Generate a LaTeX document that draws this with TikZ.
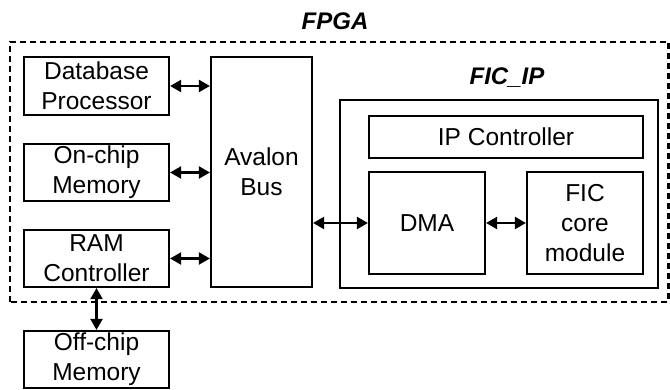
\documentclass[tikz,border=0pt]{standalone}
\usepackage{fontspec}
\setmainfont{Liberation Sans}
\usetikzlibrary{arrows.meta,positioning,calc}

\tikzset{
  blk/.style={draw,line width=2.2pt,align=center,inner sep=0pt,font=\fontsize{24.5}{30}\selectfont},
  link/.style={line width=2.2pt,{Triangle[length=11pt,width=12pt]}-{Triangle[length=11pt,width=12pt]}},
  title/.style={font=\fontsize{24}{28}\selectfont\bfseries\itshape}
}

\begin{document}
\begin{tikzpicture}[x=1pt,y=1pt]
  \useasboundingbox (0,0) rectangle (670,390);

  % FPGA region
  \draw[line width=2.8pt,dash pattern=on 6pt off 4pt] (10,88) rectangle (668.5,348);
  \node[title] (fpgalbl) at (335,369) {FPGA};

  % left column
  \node[blk,minimum width=145pt,minimum height=58pt] (dbproc) at (96.5,304) {Database\\Processor};
  \node[blk,minimum width=145pt,minimum height=57pt] (onchip) at (96.5,217.5) {On-chip\\Memory};
  \node[blk,minimum width=145pt,minimum height=57pt] (ramctl) at (96.5,131.5) {RAM\\Controller};
  \node[blk,minimum width=145pt,minimum height=57pt] (offchip) at (96.5,30.5) {Off-chip\\Memory};

  % bus
  \node[blk,minimum width=101pt,minimum height=230pt] (avalon) at (261.5,218) {Avalon\\Bus};

  % FIC_IP
  \node[blk,minimum width=318pt,minimum height=188pt] (ficip) at (499,196) {};
  \node[title] (ficlbl) at (507,312) {FIC\_IP};
  \node[blk,minimum width=274pt,minimum height=42pt] (ipctl) at (506,253) {IP Controller};
  \node[blk,minimum width=116pt,minimum height=102pt] (dma) at (427,167) {DMA};
  \node[blk,minimum width=116pt,minimum height=102pt] (ficcore) at (585,167) {FIC\\core\\module};

  % connections
  \draw[link] (dbproc.east) -- (dbproc.east -| avalon.west);
  \draw[link] (onchip.east) -- (onchip.east -| avalon.west);
  \draw[link] (ramctl.east) -- (ramctl.east -| avalon.west);
  \draw[link] (dma.west -| avalon.east) -- (dma.west);
  \draw[link] (dma.east) -- (ficcore.west);
  \draw[link] (ramctl.south) -- (offchip.north);
\end{tikzpicture}
\end{document}
